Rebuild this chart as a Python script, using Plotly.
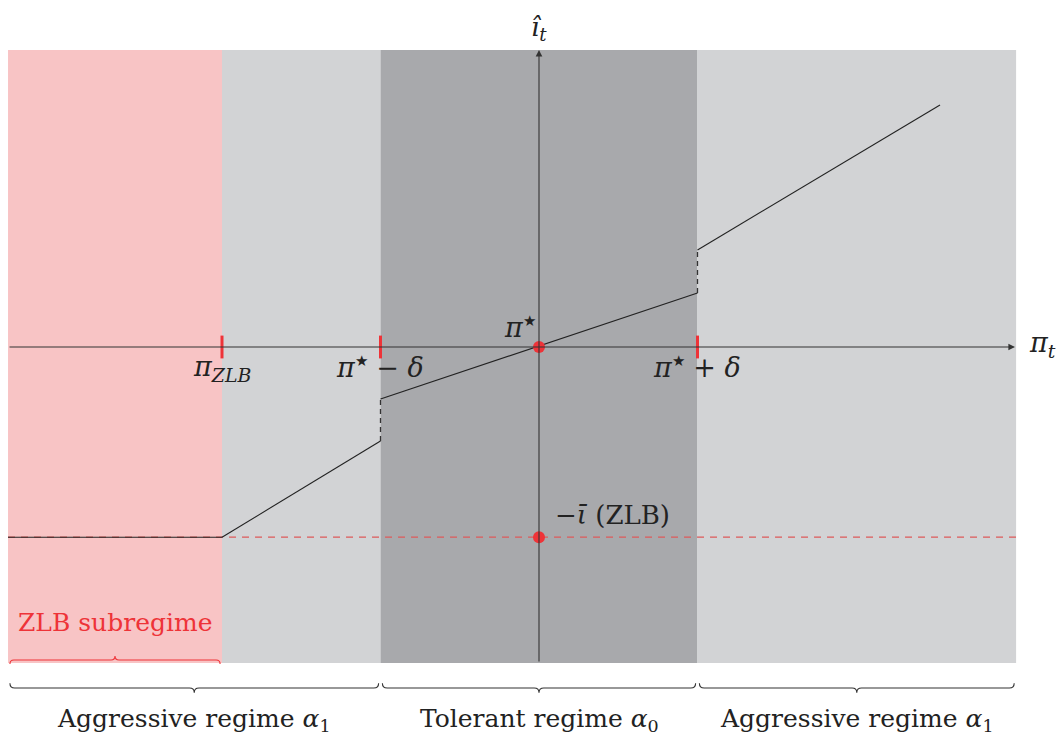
import plotly.graph_objects as go

# ---- data (units: delta = 1, pi* = 0) ----
pi_star = 0.0
delta = 1.0
pi_zlb = -2.0
x_left, x_right = -3.35, 3.01
y_bottom, y_top = -1.994, 1.874
i_bar = 1.2  # ZLB level is -i_bar

# piecewise policy rule segments
seg_zlb_x = [-3.35, -2.0]
seg_zlb_y = [-1.2, -1.2]
seg_aggl_x = [-2.0, -1.0]
seg_aggl_y = [-1.2, -0.593]
seg_tol_x = [-1.0, 1.0]
seg_tol_y = [-0.328, 0.341]
seg_aggr_x = [1.0, 2.53]
seg_aggr_y = [0.612, 1.527]
jump_left_x = [-1.0, -1.0]
jump_left_y = [-0.593, -0.328]
jump_right_x = [1.0, 1.0]
jump_right_y = [0.341, 0.612]

regime_bounds = [x_left, -delta, delta, x_right]
regime_labels = ["Aggressive regime <i>α</i><sub>1</sub>",
                 "Tolerant regime <i>α</i><sub>0</sub>",
                 "Aggressive regime <i>α</i><sub>1</sub>"]
tick_positions = [pi_zlb, -delta, delta]

S = 158.5
def X(p): return (p - 539) / S
def Y(p): return (347 - p) / S

PINK = "#F8C4C5"
LGRAY = "#D2D3D5"
DGRAY = "#A8A9AC"
RED = "#EE3338"
INK = "#222222"
FONT = "DejaVu Serif"
STAR = "<sup><span style='font-size:15px'>★</span></sup>"

fig = go.Figure()
shapes = []
# backgrounds
shapes.append(dict(type="rect", xref="x", yref="y", x0=x_left, x1=pi_zlb, y0=y_bottom, y1=y_top,
                   fillcolor=PINK, line=dict(width=0), layer="below"))
shapes.append(dict(type="rect", xref="x", yref="y", x0=pi_zlb, x1=-delta, y0=y_bottom, y1=y_top,
                   fillcolor=LGRAY, line=dict(width=0), layer="below"))
shapes.append(dict(type="rect", xref="x", yref="y", x0=-delta, x1=delta, y0=y_bottom, y1=y_top,
                   fillcolor=DGRAY, line=dict(width=0), layer="below"))
shapes.append(dict(type="rect", xref="x", yref="y", x0=delta, x1=x_right, y0=y_bottom, y1=y_top,
                   fillcolor=LGRAY, line=dict(width=0), layer="below"))

def brace(x0, x1, yc, s, color, a=0.03):
    xm = (x0 + x1) / 2
    p = (f"M {x0},{yc + s*a} Q {x0},{yc} {x0 + a},{yc} L {xm - a},{yc} "
         f"Q {xm},{yc} {xm},{yc - s*a} Q {xm},{yc} {xm + a},{yc} "
         f"L {x1 - a},{yc} Q {x1},{yc} {x1},{yc + s*a}")
    return dict(type="path", xref="x", yref="y", path=p, line=dict(color=color, width=1.1))

yb = Y(688)
for i in range(3):
    shapes.append(brace(regime_bounds[i] + 0.012, regime_bounds[i + 1] - 0.012, yb, 1, "#333333"))
shapes.append(brace(x_left + 0.012, pi_zlb - 0.012, Y(660), -1, RED, a=0.025))

# red ticks
for t in tick_positions:
    shapes.append(dict(type="line", xref="x", yref="y", x0=t, x1=t, y0=-0.072, y1=0.072,
                       line=dict(color=RED, width=3)))

# ZLB dashed line
fig.add_trace(go.Scatter(x=[x_left, x_right], y=[-i_bar, -i_bar], mode="lines",
                         line=dict(color="#DD5A5A", width=1.2, dash="7px,6px"), hoverinfo="skip"))

# policy rule
for xs, ys in [(seg_zlb_x, seg_zlb_y), (seg_aggl_x, seg_aggl_y), (seg_tol_x, seg_tol_y),
               (seg_aggr_x, seg_aggr_y)]:
    fig.add_trace(go.Scatter(x=xs, y=ys, mode="lines", line=dict(color=INK, width=1.1),
                             hoverinfo="skip"))
for xs, ys in [(jump_left_x, jump_left_y), (jump_right_x, jump_right_y)]:
    fig.add_trace(go.Scatter(x=xs, y=ys, mode="lines",
                             line=dict(color="#333333", width=1.3, dash="5px,4px"), hoverinfo="skip"))

annotations = []
# axes
annotations.append(dict(x=X(1015), y=0, ax=x_left, ay=0, xref="x", yref="y", axref="x", ayref="y",
                        showarrow=True, arrowhead=2, arrowsize=1.2, arrowwidth=1.1, arrowcolor="#333333",
                        text=""))
annotations.append(dict(x=0, y=Y(50), ax=0, ay=y_bottom, xref="x", yref="y", axref="x", ayref="y",
                        showarrow=True, arrowhead=2, arrowsize=1.2, arrowwidth=1.1, arrowcolor="#333333",
                        text=""))

# markers
fig.add_trace(go.Scatter(x=[pi_star, pi_star], y=[0, -i_bar], mode="markers",
                         marker=dict(color=RED, size=12), hoverinfo="skip"))

def lab(x, y, text, size=24, color="#222222", xanchor="center"):
    annotations.append(dict(x=x, y=y, xref="x", yref="y", text=text, showarrow=False,
                            font=dict(family=FONT, size=size, color=color), xanchor=xanchor,
                            yanchor="middle"))

lab(X(539), Y(28), "<i>î<sub>t</sub></i>", 26)
lab(X(1042), Y(344), "<i>π<sub>t</sub></i>", 27)
lab(X(520), Y(327), "<i>π</i>" + STAR, 27)
lab(X(222), Y(368), "<i>π<sub>ZLB</sub></i>", 27)
lab(X(380), Y(367), "<i>π</i>" + STAR + " − <i>δ</i>", 27)
lab(X(697), Y(367), "<i>π</i>" + STAR + " + <i>δ</i>", 27)
lab(X(612), Y(515), "−<i>ῑ</i> (ZLB)", 26)
lab(X(115), Y(622), "ZLB subregime", 25, RED)
for i in range(3):
    lab((regime_bounds[i] + regime_bounds[i + 1]) / 2, Y(720), regime_labels[i], 25)

fig.update_layout(
    width=1059, height=736, margin=dict(l=0, r=0, t=0, b=0),
    paper_bgcolor="white", plot_bgcolor="white", showlegend=False,
    shapes=shapes, annotations=annotations,
    xaxis=dict(range=[X(0), X(1059)], visible=False, fixedrange=True),
    yaxis=dict(range=[Y(736), Y(0)], visible=False, fixedrange=True),
)
fig.write_html("out.html", config={"displayModeBar": False},
               post_script="document.body.style.margin='0';document.body.style.overflow='hidden';")
